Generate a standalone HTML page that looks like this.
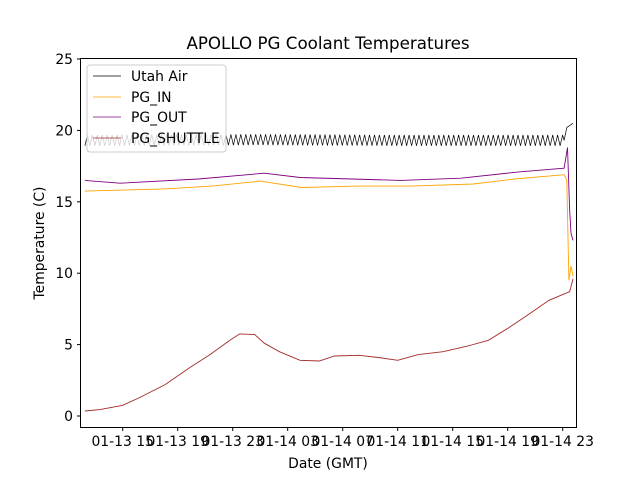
<!DOCTYPE html>
<html><head><meta charset="utf-8"><style>
body{margin:0;background:#fff;}
svg text{font-family:"DejaVu Sans","Liberation Sans",sans-serif;fill:#000;}
</style></head><body>
<svg id="chart" width="640" height="480" viewBox="0 0 640 480" xmlns="http://www.w3.org/2000/svg">
<rect width="640" height="480" fill="#fff"/>
<text x="328" y="49" font-size="16.7" text-anchor="middle">APOLLO PG Coolant Temperatures</text>
<g id="plot"></g>
<rect x="80.5" y="58.5" width="496" height="369" fill="none" stroke="#000" stroke-width="1"/>
<g id="axes"></g>
<text x="328" y="468" font-size="13.9" text-anchor="middle">Date (GMT)</text>
<text transform="translate(44,243) rotate(-90)" font-size="13.9" text-anchor="middle">Temperature (C)</text>
<g>
<rect x="87" y="65" width="139" height="87" rx="3" fill="#fff" fill-opacity="0.8" stroke="#ccc"/>
<line x1="93" y1="76" x2="121" y2="76" stroke="#000" stroke-width="0.7"/>
<text x="131" y="81" font-size="13.9">Utah Air</text>
<line x1="93" y1="97" x2="121" y2="97" stroke="orange" stroke-width="0.7"/>
<text x="131" y="102" font-size="13.9">PG_IN</text>
<line x1="93" y1="117" x2="121" y2="117" stroke="purple" stroke-width="0.7"/>
<text x="131" y="122" font-size="13.9">PG_OUT</text>
<line x1="93" y1="138" x2="121" y2="138" stroke="brown" stroke-width="0.7"/>
<text x="131" y="143" font-size="13.9">PG_SHUTTLE</text>
</g>
</svg>
<script>
// hours since 01-13 15:00 GMT
const xTickHours = [0,4,8,12,16,20,24,28,32];
const xTickLabels = ["01-13 15","01-13 19","01-13 23","01-14 03","01-14 07","01-14 11","01-14 15","01-14 19","01-14 23"];
const yTicks = [0,5,10,15,20,25];
const shuttleT = [-2.75,-1.65,0,1.26,3.08,4.9,6.35,7.8,8.5,9.6,10.3,11.4,12.9,14.3,15.4,17.2,18.6,20.0,21.5,23.3,25.1,26.6,28.1,29.5,31.0,32.1,32.5,32.75];
const shuttleV = [0.35,0.45,0.75,1.3,2.2,3.4,4.3,5.3,5.75,5.7,5.1,4.5,3.9,3.85,4.2,4.25,4.1,3.9,4.3,4.5,4.9,5.3,6.2,7.1,8.1,8.55,8.7,9.6];
const inT = [-2.75,3,6.5,10,13,17,21,25.5,28.5,32.1,32.3,32.45,32.6,32.75];
const inV = [15.75,15.9,16.1,16.45,16.0,16.1,16.1,16.25,16.6,16.9,16.5,9.5,10.5,9.8];
const outT = [-2.75,-0.2,5.5,10.3,12.9,20.2,24.6,28.9,32.1,32.35,32.5,32.6,32.75];
const outV = [16.5,16.3,16.6,17.0,16.7,16.5,16.65,17.1,17.35,18.8,14.5,12.8,12.3];
const airT = [-2.75,10,20,32.1,32.3,32.75];
const airV = [19.3,19.35,19.3,19.3,20.2,20.5];
const airSwing = 0.38;

const X = t => 122.7 + t*13.75;
const Y = v => 416 - v*14.28;
const NS="http://www.w3.org/2000/svg";
const axes=document.getElementById('axes'), plot=document.getElementById('plot');
xTickHours.forEach((h,i)=>{
  const l=document.createElementNS(NS,'line');
  l.setAttribute('x1',X(h));l.setAttribute('x2',X(h));l.setAttribute('y1',427.5);l.setAttribute('y2',431);l.setAttribute('stroke','#000');
  
  
  axes.appendChild(l);
  const t=document.createElementNS(NS,'text');
  t.setAttribute('x',X(h));t.setAttribute('y',446);t.setAttribute('font-size','13.9');t.setAttribute('text-anchor','middle');
  t.textContent=xTickLabels[i];
  
  
  axes.appendChild(t);
});
yTicks.forEach(v=>{
  const l=document.createElementNS(NS,'line');
  l.setAttribute('x1',77);l.setAttribute('x2',80.5);l.setAttribute('y1',Y(v));l.setAttribute('y2',Y(v));l.setAttribute('stroke','#000');
  
  
  axes.appendChild(l);
  const t=document.createElementNS(NS,'text');
  t.setAttribute('x',73);t.setAttribute('y',Y(v)+5);t.setAttribute('font-size','13.9');t.setAttribute('text-anchor','end');
  t.textContent=v;
  
  
  axes.appendChild(t);
});
function line(ts,vs,color,name,w){
  const p=document.createElementNS(NS,'polyline');
  p.setAttribute('points',ts.map((t,i)=>X(t).toFixed(1)+','+Y(vs[i]).toFixed(1)).join(' '));
  p.setAttribute('fill','none');p.setAttribute('stroke',color);p.setAttribute('stroke-width',w||0.8);
  
  
  plot.appendChild(p);
}
// Utah air: zigzag texture around interpolated base values
(function(){
  const ts=[],vs=[];let k=0;
  const end=airT[3];
  for(let t=airT[0];t<end;t+=0.18,k++){
    let j=0;while(j<airT.length-2&&airT[j+1]<t)j++;
    const f=(t-airT[j])/(airT[j+1]-airT[j]);
    ts.push(t);vs.push(airV[j]+f*(airV[j+1]-airV[j])+(k%2?airSwing:-airSwing));
  }
  for(let j=3;j<airT.length;j++){ts.push(airT[j]);vs.push(airV[j]);}
  line(ts,vs,'#000','utah-air-line',0.7);
})();
line(inT,inV,'orange','pg-in-line',0.9);
line(outT,outV,'purple','pg-out-line',0.9);
line(shuttleT,shuttleV,'brown','pg-shuttle-line',0.9);
</script>
</body></html>
